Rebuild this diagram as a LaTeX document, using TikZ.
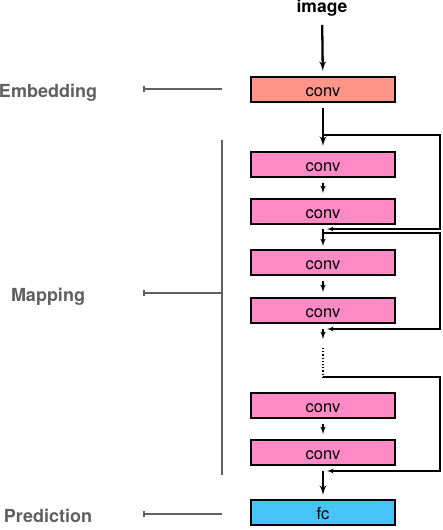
\documentclass[tikz,border=0pt]{standalone}
\usepackage{fontspec}
\setmainfont{TeX Gyre Heros}
\usetikzlibrary{arrows, arrows.meta, positioning}
\definecolor{salmon}{HTML}{FF9488}
\definecolor{pinkish}{HTML}{FF8AC5}
\definecolor{skyblue}{HTML}{47C4F7}
\definecolor{labelgray}{HTML}{606060}
\tikzstyle{block} = [draw, line width=2pt, rectangle, minimum height=25pt, minimum width=144pt,
    inner sep=0pt, text height=14pt, text depth=0pt, font=\fontsize{16.5}{20}\selectfont]
\tikzstyle{arrow} = [arrows=->, black, line width=1.5pt]
\tikzstyle{bigarrow} = [arrows=->, black, line width=2.3pt]
\tikzstyle{skip} = [black, line width=1.2pt]
\tikzstyle{part} = [anchor=base, font=\fontsize{18}{20}\selectfont\bfseries, text=labelgray]
\tikzstyle{bracket} = [labelgray, line width=1.6pt]

\begin{document}
\begin{tikzpicture}[x=1pt, y=1pt, >=latex']
    \useasboundingbox (0,0) rectangle (442,-530);

    % Place the blocks
    \node [font=\fontsize{17.5}{20}\selectfont\bfseries] (image) at (322,-8) {image};
    \node [block, fill=salmon] (emb) at (323,-89.5) {conv};
    \node [block, fill=pinkish, below=48pt of emb] (m1) {conv};
    \node [block, fill=pinkish, below=20pt of m1] (m2) {conv};
    \node [block, fill=pinkish, below=24pt of m2] (m3) {conv};
    \node [block, fill=pinkish, below=21pt of m3] (m4) {conv};
    \node [block, fill=pinkish, below=68pt of m4] (m5) {conv};
    \node [block, fill=pinkish, below=20pt of m5] (m6) {conv};
    \node [block, fill=skyblue, below=33pt of m6] (fc) {fc};

    % Skip junctions
    \coordinate [below=32pt of emb] (s1);
    \coordinate [below=4pt of m2] (r1);
    \coordinate [below=8pt of m2] (s2);
    \coordinate [below=5pt of m4] (r2);
    \coordinate [below=15pt of m4] (r2end);
    \coordinate [below=24pt of m4] (dots);
    \coordinate [below=53pt of m4] (s3);
    \coordinate [below=5pt of m6] (r3);
    \coordinate (rail) at (440,0);

    % Connect the nodes
    \draw [bigarrow, shorten <=5pt, shorten >=5pt] (image) -- (emb);
    \draw [bigarrow, shorten <=5pt, shorten >=5pt] (emb) -- (m1);
    \draw [arrow, shorten <=5pt, shorten >=5pt] (m1) -- (m2);
    \draw [arrow, shorten >=3pt] (r1) -- (m3);
    \draw [arrow, shorten <=5pt, shorten >=5pt] (m3) -- (m4);
    \draw [arrow] (r2) -- (r2end);
    \draw [skip, dotted] (dots) -- (s3);
    \draw [arrow, shorten <=5pt, shorten >=5pt] (m5) -- (m6);
    \draw [bigarrow, shorten >=4pt] (r3) -- (fc);

    % Skip connections
    \draw [skip, ->] (s1) -- (s1 -| rail) -- (r1 -| rail) -- ([xshift=4pt]r1);
    \draw [skip, ->] (s2) -- (s2 -| rail) -- (r2 -| rail) -- ([xshift=4pt]r2);
    \draw [skip, ->] (s3) -- (s3 -| rail) -- (r3 -| rail) -- ([xshift=4pt]r3);

    % Stage labels
    \node [part] (embl) at (48,-97) {Embedding};
    \node [part] (mapl) at (48,-301) {Mapping};
    \node [part] (predl) at (48,-522) {Prediction};
    \coordinate (embtick) at (143,-89);
    \coordinate (maptick) at (143,-293);
    \coordinate (predtick) at (143,-514);
    \coordinate (maptop) at (222,-140);
    \coordinate (mapbot) at (222,-475);
    \draw [bracket, {Bar[width=6pt]}-] (embtick) -- (embtick -| maptop);
    \draw [bracket, {Bar[width=6pt]}-] (maptick) -- (maptick -| maptop);
    \draw [bracket, {Bar[width=6pt]}-] (predtick) -- (predtick -| maptop);
    \draw [bracket] (maptop) -- (mapbot);
\end{tikzpicture}
\end{document}
